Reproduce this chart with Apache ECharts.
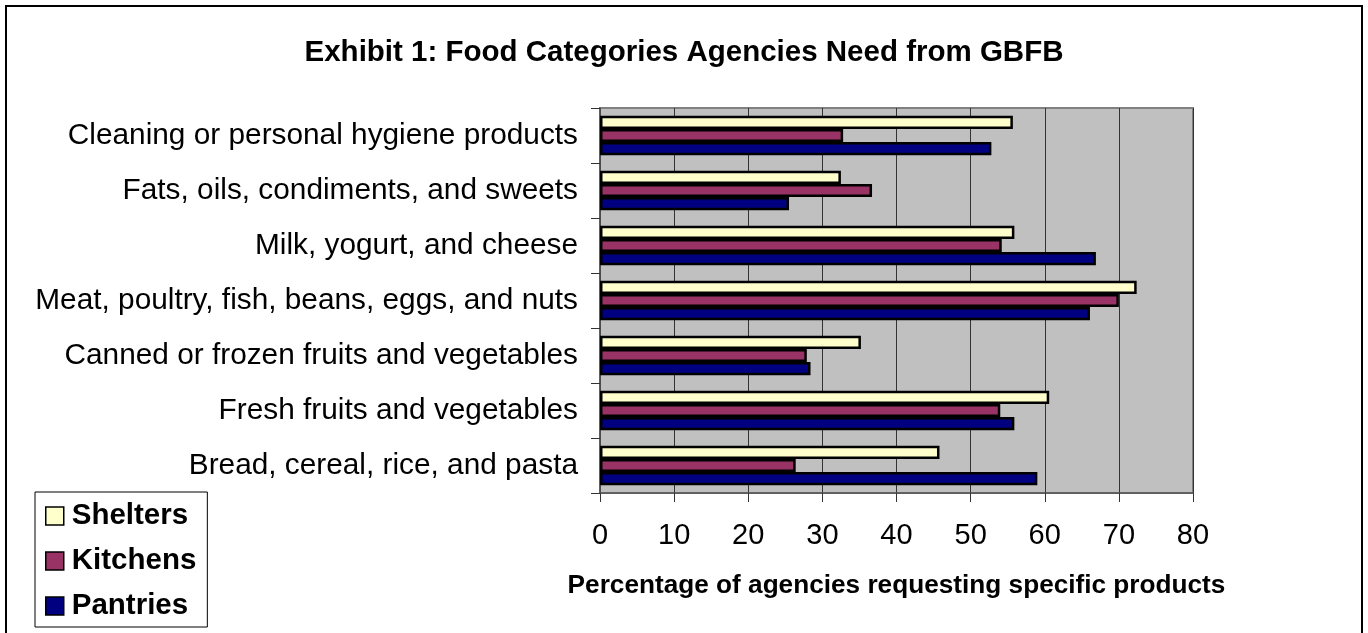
<!DOCTYPE html>
<html>
<head>
<meta charset="utf-8">
<script src="https://cdn.jsdelivr.net/npm/echarts@6/dist/echarts.min.js"></script>
<style>
html,body{margin:0;padding:0;background:#fff;}
#chart{width:1368px;height:633px;}
</style>
</head>
<body>
<div id="chart"></div>
<script>
var categories = [
  'Bread, cereal, rice, and pasta',
  'Fresh fruits and vegetables',
  'Canned or frozen fruits and vegetables',
  'Meat, poultry, fish, beans, eggs, and nuts',
  'Milk, yogurt, and cheese',
  'Fats, oils, condiments, and sweets',
  'Cleaning or personal hygiene products'
];
var shelters = [45.8, 60.6, 35.2, 72.4, 55.9, 32.5, 55.7];
var kitchens = [26.4, 54.0, 27.9, 70.0, 54.2, 36.7, 32.8];
var pantries = [59.0, 55.9, 28.4, 66.1, 66.9, 25.5, 52.8];
var xTicks = [0, 10, 20, 30, 40, 50, 60, 70, 80];

var chart = echarts.init(document.getElementById('chart'));
var font = 'Arial, "Liberation Sans", sans-serif';
function bar(name, data, color) {
  return {
    name: name,
    type: 'bar',
    data: data,
    barGap: '0%',
    barCategoryGap: '28%',
    itemStyle: { color: color, borderColor: '#000', borderWidth: 2.5 },
    emphasis: { disabled: true },
    animation: false
  };
}
chart.setOption({
  animation: false,
  graphic: [{
    type: 'rect',
    shape: { x: 6, y: 6, width: 1356, height: 700 },
    style: { fill: 'none', stroke: '#000', lineWidth: 2 },
    silent: true,
    z: -1
  }],
  title: {
    text: 'Exhibit 1: Food Categories Agencies Need from GBFB',
    left: 'center',
    top: 33,
    textStyle: { fontFamily: font, fontSize: 29.5, fontWeight: 'bold', color: '#000' }
  },
  legend: {
    orient: 'vertical',
    left: 35,
    top: 492,
    data: ['Shelters', 'Kitchens', 'Pantries'],
    backgroundColor: '#fff',
    borderColor: '#000',
    borderWidth: 1,
    padding: [9, 11, 6, 10],
    itemWidth: 18,
    itemHeight: 18,
    itemGap: 15,
    icon: 'rect',
    itemStyle: { borderColor: '#000', borderWidth: 1.5 },
    textStyle: { fontFamily: font, fontSize: 29.5, fontWeight: 'bold', color: '#000', lineHeight: 29, padding: [0, 0, 0, 3] }
  },
  grid: {
    left: 600, right: 175, top: 108, bottom: 140,
    show: true,
    backgroundColor: '#C0C0C0',
    borderColor: '#808080',
    borderWidth: 2,
    containLabel: false
  },
  xAxis: {
    type: 'value',
    min: xTicks[0],
    max: xTicks[xTicks.length - 1],
    interval: 10,
    name: 'Percentage of agencies requesting specific products',
    nameLocation: 'middle',
    nameGap: 80,
    nameTextStyle: { fontFamily: font, fontSize: 26.2, fontWeight: 'bold', color: '#000' },
    axisLine: { show: true, lineStyle: { color: '#555', width: 1.5 } },
    axisTick: { show: true, length: 9, lineStyle: { color: '#333', width: 1 } },
    axisLabel: { fontFamily: font, fontSize: 29, color: '#000', margin: 28 },
    splitLine: { show: true, lineStyle: { color: '#333', width: 1 } }
  },
  yAxis: {
    type: 'category',
    data: categories,
    axisLine: { show: true, lineStyle: { color: '#555', width: 1.5 } },
    axisTick: { show: true, length: 9, lineStyle: { color: '#333', width: 1 } },
    axisLabel: { fontFamily: font, fontSize: 29.8, color: '#000', margin: 22 },
    splitLine: { show: false }
  },
  series: [
    bar('Shelters', shelters, '#FFFFCC'),
    bar('Kitchens', kitchens, '#993366'),
    bar('Pantries', pantries, '#000080')
  ]
});
</script>
</body>
</html>
